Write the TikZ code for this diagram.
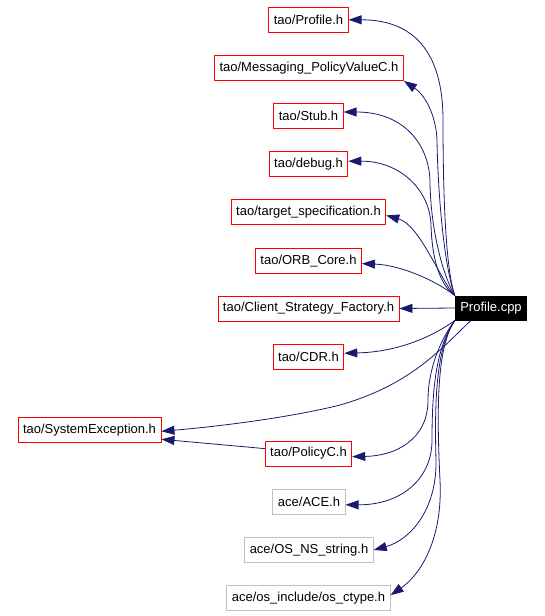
\documentclass[tikz,border=0pt]{standalone}
\usepackage{fontspec}
\setmainfont{Liberation Sans}
\usetikzlibrary{arrows.meta}
\begin{document}
\begin{tikzpicture}[x=1pt,y=-1pt,font=\fontsize{13}{15}\selectfont,
  box/.style={draw=#1,line width=0.9pt,inner xsep=5pt,inner ysep=0pt,minimum height=25pt},
  dep/.style={draw=mb,line width=0.8pt,-{Triangle[length=13pt,width=9pt]}}]
  \definecolor{mb}{HTML}{191970}
  \definecolor{rd}{HTML}{FF0000}
  \definecolor{gy}{HTML}{BFBFBF}
  \useasboundingbox (0,0) rectangle (544,616);
  % the source file
  \node[box=black,fill=black,text=white,minimum height=24pt] (cpp) at (491,308) {Profile.cpp};
  % tao headers
  \node[box=rd] (profh) at (308.5,19.8) {tao/Profile.h};
  \node[box=rd] (msg) at (309,68) {tao/Messaging\_PolicyValueC.h};
  \node[box=rd] (stub) at (308.5,116) {tao/Stub.h};
  \node[box=rd] (debug) at (308.5,164.2) {tao/debug.h};
  \node[box=rd] (target) at (308.5,212.4) {tao/target\_specification.h};
  \node[box=rd] (orb) at (308.5,260.6) {tao/ORB\_Core.h};
  \node[box=rd] (client) at (308.5,308.5) {tao/Client\_Strategy\_Factory.h};
  \node[box=rd] (cdr) at (308.5,357.2) {tao/CDR.h};
  \node[box=rd] (sysexc) at (89.5,430.3) {tao/SystemException.h};
  \node[box=rd] (policyc) at (308.5,453.6) {tao/PolicyC.h};
  % ace headers
  \node[box=gy] (ace) at (309,501.8) {ace/ACE.h};
  \node[box=gy] (osns) at (309,550) {ace/OS\_NS\_string.h};
  \node[box=gy] (ctype) at (308.5,598.2) {ace/os\_include/os\_ctype.h};
  % upper edges
  \draw[dep] (cpp.north west) .. controls (446,270) and (443,200) .. (443,120)
    .. controls (443,60) and (420,19.8) .. (profh.east);
  \draw[dep] (cpp.north west) .. controls (445,270) and (438,200) .. (437,140)
    .. controls (436,115) and (425,95) .. (msg.south east);
  \draw[dep] (cpp.north west) .. controls (440,270) and (430,220) .. (430,180)
    .. controls (428,140) and (400,112) .. ([yshift=4pt]stub.east);
  \draw[dep] (cpp.north west) .. controls (440,285) and (432,260) .. (431,225)
    .. controls (430,190) and (400,161) .. ([yshift=3pt]debug.east);
  \draw[dep] (cpp.north west) .. controls (440,280) and (420,225) .. ([yshift=-3pt]target.east);
  \draw[dep] (cpp.north west) .. controls (435,280) and (400,265) .. ([yshift=-3pt]orb.east);
  \draw[dep] (cpp.west) -- (client.east);
  % lower edges
  \draw[dep] (cpp.south west) .. controls (435,335) and (400,352) .. ([yshift=4pt]cdr.east);
  \draw[dep] ([xshift=16pt]cpp.south west) .. controls (440,350) and (410,385) .. (340,405)
    .. controls (280,420) and (200,428) .. ([yshift=-1pt]sysexc.east);
  \draw[dep] (cpp.south west) .. controls (440,340) and (428,370) .. (428,400)
    .. controls (428,440) and (395,456) .. ([yshift=-3pt]policyc.east);
  \draw[dep] (cpp.south west) .. controls (438,345) and (432,380) .. (432,440)
    .. controls (432,480) and (400,505) .. ([yshift=-3pt]ace.east);
  \draw[dep] (cpp.south west) .. controls (438,345) and (434,390) .. (436,460)
    .. controls (437,510) and (410,540) .. (osns.east);
  \draw[dep] (cpp.south west) .. controls (438,345) and (436,400) .. (440,480)
    .. controls (443,540) and (420,575) .. ([yshift=3pt]ctype.east);
  \draw[dep] ([yshift=5pt]policyc.west) -- ([yshift=-9pt]sysexc.east);
\end{tikzpicture}
\end{document}
